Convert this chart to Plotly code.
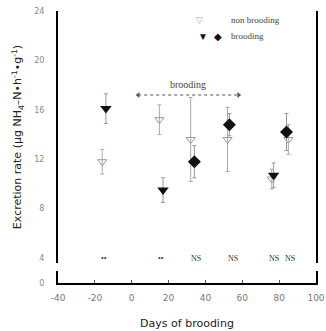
import plotly.graph_objects as go

# ---- data ----
nb_days = [-16, 15, 32, 52, 76, 85]
nb_vals = [11.8, 15.2, 13.6, 13.6, 10.4, 13.6]
nb_err = [1.0, 1.2, 3.4, 2.6, 0.8, 1.2]

b_tri_days = [-14, 17, 77]
b_tri_vals = [16.1, 9.5, 10.7]
b_tri_err = [1.2, 1.0, 1.0]

b_dia_days = [34, 53, 84]
b_dia_vals = [11.8, 14.8, 14.2]
b_dia_err = [1.3, 0.9, 1.5]

sig_days = [-15, 16, 35, 55, 77, 86]
sig_labels = ["••", "••", "NS", "NS", "NS", "NS"]
sig_level = 4

brood_start, brood_end = 3.5, 58
brood_level = 17.2
brood_label = "brooding"

x_ticks = [-40, -20, 0, 20, 40, 60, 80, 100]
y_ticks = [4, 8, 12, 16, 20, 24]

SERIF = "Liberation Serif, DejaVu Serif, serif"
SANS = "DejaVu Sans, Verdana, sans-serif"

fig = go.Figure()

fig.add_trace(go.Scatter(
    x=nb_days, y=nb_vals, mode="markers", name="non brooding",
    marker=dict(symbol="triangle-down-open", size=8, color="#9a9a9a",
                line=dict(width=1, color="#9a9a9a")),
    error_y=dict(type="data", array=nb_err, color="#aaaaaa", thickness=1, width=2),
))
fig.add_trace(go.Scatter(
    x=b_tri_days, y=b_tri_vals, mode="markers", name="brooding",
    marker=dict(symbol="triangle-down", size=10, color="#111111"),
    error_y=dict(type="data", array=b_tri_err, color="#999999", thickness=1, width=2),
))
fig.add_trace(go.Scatter(
    x=b_dia_days, y=b_dia_vals, mode="markers", name="brooding",
    marker=dict(symbol="diamond", size=10, color="#111111"),
    error_y=dict(type="data", array=b_dia_err, color="#999999", thickness=1, width=2),
))
# brooding period arrow
fig.add_trace(go.Scatter(
    x=[brood_start, brood_end], y=[brood_level, brood_level], mode="lines+markers",
    line=dict(color="#555555", width=1, dash="dot"),
    marker=dict(symbol=["triangle-left", "triangle-right"], size=5, color="#555555"),
    hoverinfo="skip",
))
# empty trace so the lower (broken-axis) panel is created
fig.add_trace(go.Scatter(x=[], y=[], xaxis="x", yaxis="y2", hoverinfo="skip"))

annotations = []
for d, lab in zip(sig_days, sig_labels):
    annotations.append(dict(x=d, y=sig_level, xref="x", yref="y", text=lab,
                            showarrow=False, font=dict(family=SERIF, size=8, color="#333")))
annotations.append(dict(x=(brood_start + brood_end) / 2, y=brood_level, xref="x", yref="y",
                        text=brood_label, showarrow=False, yshift=11,
                        font=dict(family=SERIF, size=10, color="#444")))
# legend (drawn manually)
leg = dict(xref="paper", yref="paper", showarrow=False, yanchor="middle")
annotations += [
    dict(x=0.55, y=0.967, text="▽", xanchor="center", font=dict(size=9, color="#aaa"), **leg),
    dict(x=0.663, y=0.967, text="non brooding", xanchor="left",
         font=dict(family=SERIF, size=9, color="#444"), **leg),
    dict(x=0.562, y=0.908, text="▼", xanchor="center", font=dict(size=10, color="#111"), **leg),
    dict(x=0.62, y=0.908, text="◆", xanchor="center", font=dict(size=10, color="#111"), **leg),
    dict(x=0.663, y=0.908, text="brooding", xanchor="left",
         font=dict(family=SERIF, size=9, color="#444"), **leg),
]

fig.update_layout(
    width=326, height=331,
    margin=dict(l=58, r=10, t=11, b=48, autoexpand=False),
    paper_bgcolor="white", plot_bgcolor="white",
    showlegend=False,
    annotations=annotations,
    xaxis=dict(
        domain=[0, 1], anchor="y2", range=[-40, 100], automargin=False,
        tickvals=x_ticks, ticktext=[str(v) for v in x_ticks],
        ticks="inside", ticklen=3, tickcolor="#555",
        showline=True, linecolor="black", linewidth=2,
        showgrid=False, zeroline=False, ticklabelstandoff=5,
        tickfont=dict(family=SANS, size=9, color="#777"),
        title=dict(text="Days of brooding", font=dict(family=SANS, size=11, color="#222"),
                   standoff=18),
    ),
    xaxis2=dict(
        domain=[0, 1], anchor="y", matches="x", side="top", automargin=False,
        showticklabels=False, ticks="", showline=True, linecolor="black", linewidth=2,
        showgrid=False, zeroline=False,
    ),
    yaxis=dict(
        domain=[0.0735, 1], anchor="x", range=[3.6, 24.0], automargin=False,
        tickvals=y_ticks, ticktext=[str(v) for v in y_ticks],
        ticks="", showline=True, mirror=True, linecolor="black", linewidth=2,
        showgrid=False, zeroline=False, ticklabelstandoff=10,
        tickfont=dict(family=SANS, size=8, color="#888"),
        title=dict(text="Excretion rate (μg NH<sub>4</sub>–N•h<sup>-1</sup>•g<sup>-1</sup>)",
                   font=dict(family=SANS, size=11, color="#222"), standoff=10),
    ),
    yaxis2=dict(
        domain=[0, 0.045], anchor="x", range=[0, 1], automargin=False,
        tickvals=[0], ticktext=["0"], ticks="",
        showline=True, mirror=True, linecolor="black", linewidth=2,
        showgrid=False, zeroline=False, ticklabelstandoff=10,
        tickfont=dict(family=SANS, size=8, color="#888"),
    ),
)

fig.write_html("out.html", config={"displayModeBar": False},
               post_script="document.body.style.margin='0';")
